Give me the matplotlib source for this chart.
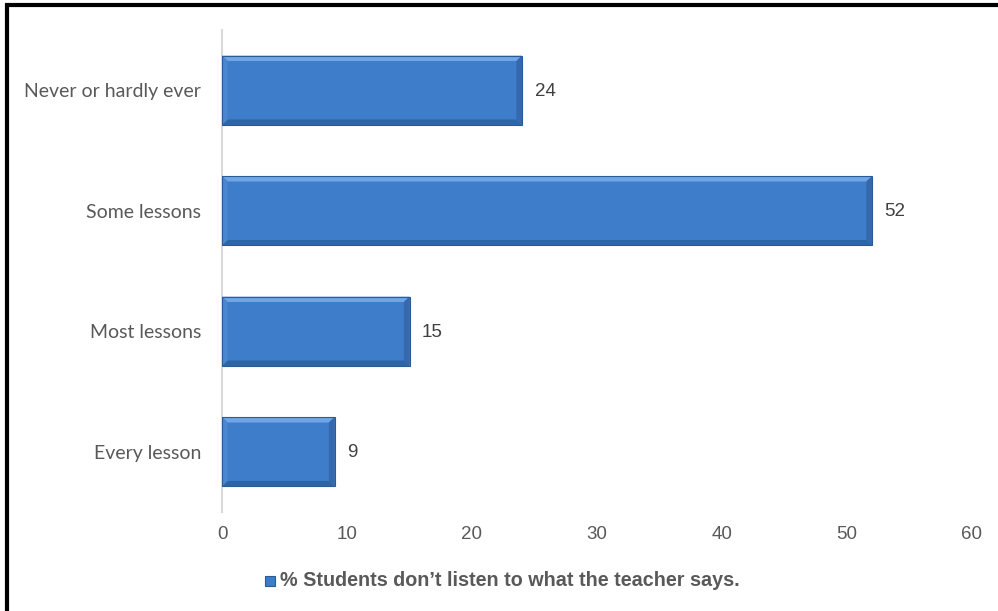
import matplotlib
matplotlib.use("Agg")
import matplotlib.pyplot as plt
from matplotlib.patches import Rectangle, Polygon
import numpy as np

categories = ["Every lesson", "Most lessons", "Some lessons", "Never or hardly ever"]
values = [9, 15, 52, 24]
xticks = [0, 10, 20, 30, 40, 50, 60]
legend_label = "% Students don\u2019t listen to what the teacher says."

fig = plt.figure(figsize=(9.98, 6.11), dpi=100)
ax = fig.add_axes([222/998, 1-512/611, (972-222)/998, (512-30)/611])

ypos = np.arange(len(categories))
h = 0.575
bars = ax.barh(ypos, values, height=h, color="#3D7DC9", edgecolor="none", zorder=3)

# bevel effect
for y, v in zip(ypos, values):
    bx = 0.45  # bevel width in data units (x)
    by = 0.045  # bevel height in data units (y)
    top = y + h/2; bot = y - h/2
    ax.add_patch(Polygon([[0, top], [v, top], [v-bx, top-by], [bx, top-by]], closed=True,
                         facecolor="#6FA6E3", edgecolor="none", zorder=4))
    ax.add_patch(Polygon([[0, bot], [v, bot], [v-bx, bot+by], [bx, bot+by]], closed=True,
                         facecolor="#2F64A5", edgecolor="none", zorder=4))
    ax.add_patch(Polygon([[v, top], [v, bot], [v-bx, bot+by], [v-bx, top-by]], closed=True,
                         facecolor="#3569AC", edgecolor="none", zorder=4))
    ax.add_patch(Polygon([[0, top], [0, bot], [bx, bot+by], [bx, top-by]], closed=True,
                         facecolor="#4A86CF", edgecolor="none", zorder=4))
    ax.add_patch(Rectangle((0, bot), v, h, fill=False, edgecolor="#2A5B96", linewidth=0.8, zorder=5))
    ax.text(v + 1.0, y - 0.01, str(v), va="center", ha="left", fontsize=13.5,
            family="Liberation Sans", color="#404040")

ax.set_xlim(0, 60)
ax.set_ylim(-0.5, len(categories) - 0.5)
ax.set_xticks(xticks)
ax.set_xticklabels([str(t) for t in xticks], family="Liberation Sans", fontsize=13.5, color="#595959")
ax.set_yticks(ypos)
ax.set_yticklabels(categories, family="Lato", fontsize=14, color="#595959")
ax.tick_params(axis="both", length=0)
ax.tick_params(axis="x", pad=10)
ax.tick_params(axis="y", pad=15)
for s in ["top", "right", "bottom"]:
    ax.spines[s].set_visible(False)
ax.spines["left"].set_color("#D9D9D9")
ax.spines["left"].set_linewidth(1.5)

# legend
fig.patches.append(Rectangle((265/998, 1-586/611), 10/998, 10/611, transform=fig.transFigure,
                             facecolor="#3D7DC9", edgecolor="#2A5B96", linewidth=0.8))
fig.text(280/998, 1-581/611, legend_label, ha="left", va="center", fontsize=14.2,
         family="Liberation Sans", fontweight="bold", color="#595959")

# border
fig.patches.append(Rectangle((7/998, -0.1), 1.2, 1 - 4.5/611 + 0.1, transform=fig.transFigure,
                             fill=False, edgecolor="black", linewidth=3))

fig.savefig("out.png", dpi=100)
